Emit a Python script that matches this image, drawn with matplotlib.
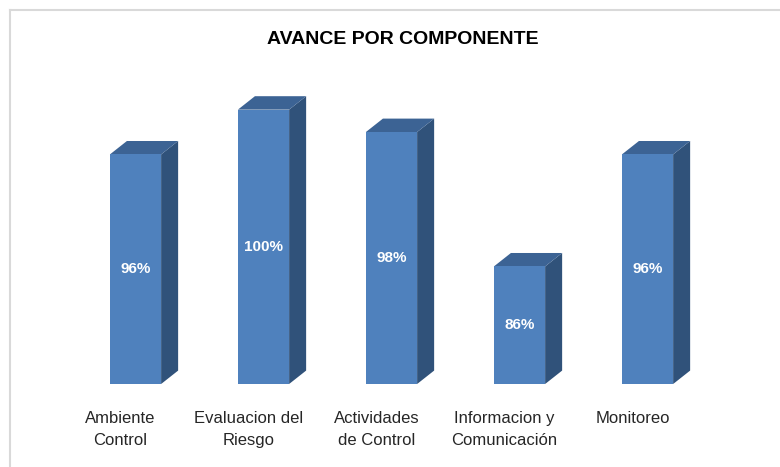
import matplotlib.pyplot as plt
from matplotlib.patches import Polygon
from matplotlib.lines import Line2D
import numpy as np

# datos del grafico
componentes = ['Ambiente\nControl', 'Evaluacion del\nRiesgo', 'Actividades\nde Control',
               'Informacion y\nComunicación', 'Monitoreo']
avance = [96, 100, 98, 86, 96]
etiquetas = ['96%', '100%', '98%', '86%', '96%']

base = 75.5          # el eje no empieza en cero
ancho = 0.4
dx, dy = 0.133, 1.2  # profundidad del efecto 3D (unidades de datos)

col_frente = '#4F81BD'
col_lado = '#30527A'
col_tapa = '#3C6394'

fuente = ['Liberation Sans', 'DejaVu Sans']

fig = plt.figure(figsize=(7.8, 4.67), dpi=100)
ax = fig.add_axes([0, 0, 1, 1])
ax.set_xlim(-1.0586, 5.035)
ax.set_ylim(68.09, 109.79)
ax.axis('off')

x = np.arange(len(avance))
alturas = [v - base for v in avance]
ax.bar(x, alturas, bottom=base, width=ancho, color=col_frente, zorder=3)

for xi, v in zip(x, avance):
    der = xi + ancho / 2
    izq = xi - ancho / 2
    # cara lateral
    ax.add_patch(Polygon([(der, base), (der + dx, base + dy), (der + dx, v + dy), (der, v)],
                         closed=True, facecolor=col_lado, edgecolor='none', zorder=2))
    # tapa superior
    ax.add_patch(Polygon([(izq, v), (izq + dx, v + dy), (der + dx, v + dy), (der, v)],
                         closed=True, facecolor=col_tapa, edgecolor='none', zorder=2))

for xi, v, et in zip(x, avance, etiquetas):
    ax.text(xi, (base + v) / 2, et, ha='center', va='center', color='white',
            fontsize=11, fontweight='bold', family=fuente, zorder=4)

for xi, nombre in zip(x, componentes):
    ax.text(xi - 0.117, 73.05, nombre, ha='center', va='top', color='#262626',
            fontsize=12, family=fuente, linespacing=1.55)

fig.text(0.517, 0.915, 'AVANCE POR COMPONENTE', ha='center', va='center',
         fontsize=14, fontweight='bold', family=fuente, color='#000000')

# marco del grafico
fig.add_artist(Line2D([10 / 780, 10 / 780], [0, 1 - 10 / 467], color='#D9D9D9', lw=1.5))
fig.add_artist(Line2D([10 / 780, 1], [1 - 10 / 467, 1 - 10 / 467], color='#D9D9D9', lw=1.5))

fig.savefig('out.png', dpi=100)
